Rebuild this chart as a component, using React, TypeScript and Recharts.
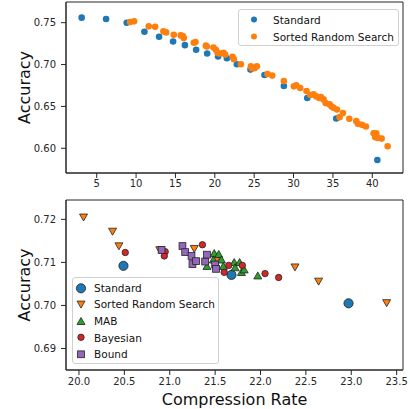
import React from 'react';
import { ScatterChart, Scatter, XAxis, YAxis, Legend, ReferenceArea } from 'recharts';

// top panel: accuracy vs compression rate
const topStdRate = [3.09, 6.19, 8.81, 11.06, 12.92, 14.7, 16.2, 17.63, 19.03, 20.42, 21.53, 22.8, 24.53, 26.31, 28.77, 31.74, 35.42, 40.64];
const topStdAcc = [0.756, 0.7544, 0.75, 0.7392, 0.7332, 0.7276, 0.7232, 0.7176, 0.7132, 0.7096, 0.7076, 0.7004, 0.694, 0.6876, 0.6744, 0.66, 0.6356, 0.586];

const topSrsRate = [
  9.24, 9.75, 11.61, 12.42, 13.47, 13.81, 14.79, 15.68, 15.93, 16.06, 17.33, 17.54, 18.86, 18.98, 19.83,
  20.13, 20.34, 20.59, 21.1, 21.31, 22.25, 22.42, 23.31, 24.58, 24.7, 25.04, 25.34, 26.69, 27.29, 28.77,
  30.04, 30.34, 30.85, 31.65, 32.12, 32.54, 32.88, 33.26, 33.47, 33.81, 34.07, 34.58, 34.83, 35.08, 35.51,
  35.85, 36.27, 37.08, 37.97, 38.18, 38.69, 39.19, 40.17, 40.38, 40.51, 40.72, 41.19, 41.95,
];
const topSrsAcc = [
  0.7508, 0.7516, 0.7456, 0.7452, 0.7396, 0.7384, 0.7356, 0.7348, 0.734, 0.7316, 0.726, 0.7268, 0.7228, 0.7216, 0.7204,
  0.7176, 0.714, 0.7132, 0.714, 0.712, 0.7092, 0.7064, 0.7004, 0.698, 0.6956, 0.6956, 0.698, 0.6888, 0.6868, 0.6804,
  0.674, 0.6752, 0.672, 0.6684, 0.6636, 0.6644, 0.662, 0.66, 0.6612, 0.6584, 0.654, 0.6524, 0.65, 0.6484, 0.6464,
  0.6372, 0.642, 0.6352, 0.6324, 0.6292, 0.628, 0.626, 0.618, 0.6132, 0.618, 0.6124, 0.6116, 0.6024,
];

const topXDomain = [1.1, 43.9];
const topYDomain = [0.5705, 0.7747];
const topXTicks = [5, 10, 15, 20, 25, 30, 35, 40];
const topYTicks = [0.6, 0.65, 0.7, 0.75];

// bottom panel: zoom on the 20-23.5 range
const botStdRate = [20.49, 21.68, 22.97];
const botStdAcc = [0.7092, 0.7071, 0.7005];

const botSrsRate = [20.05, 20.37, 20.44, 20.89, 21.27, 21.51, 22.38, 22.64, 23.39];
const botSrsAcc = [0.7205, 0.7172, 0.7138, 0.7129, 0.7132, 0.7105, 0.7089, 0.7056, 0.7006];

const botMabRate = [21.49, 21.54, 21.48, 21.57, 21.41, 21.59, 21.71, 21.72, 21.77, 21.79, 21.82, 21.97];
const botMabAcc = [0.7121, 0.7119, 0.7106, 0.7106, 0.7091, 0.7091, 0.71, 0.7088, 0.71, 0.7077, 0.7083, 0.7069];

const botBayRate = [20.51, 20.95, 20.94, 21.36, 21.65, 21.6, 21.8, 22.05, 22.2];
const botBayAcc = [0.7123, 0.7125, 0.7115, 0.7141, 0.7093, 0.7077, 0.7093, 0.7074, 0.7065];

const botBoundRate = [20.91, 21.14, 21.17, 21.24, 21.25, 21.29, 21.39, 21.41, 21.5, 21.51];
const botBoundAcc = [0.7129, 0.7138, 0.7124, 0.7115, 0.7096, 0.7103, 0.7102, 0.7118, 0.7095, 0.7085];

const botXDomain = [19.857, 23.57];
const botYDomain = [0.685, 0.7245];
const botXTicks = [20, 20.5, 21, 21.5, 22, 22.5, 23, 23.5];
const botYTicks = [0.69, 0.7, 0.71, 0.72];

const zip = (xs: number[], ys: number[]) => xs.map((x, i) => ({ x, y: ys[i] }));

const FONT = 'DejaVu Sans';
const AXIS = '#262626';

const COLORS = {
  blue: '#1f77b4',
  orange: '#ff7f0e',
  green: '#2ca02c',
  red: '#d62728',
  purple: '#9467bd',
};

// marker shapes, matplotlib style
const Dot = ({ cx, cy, r, fill, edge }: any) => (
  <circle cx={cx} cy={cy} r={r} fill={fill} stroke={edge ? '#222' : 'none'} strokeWidth={0.8} />
);
const TriDown = ({ cx, cy, fill }: any) => (
  <polygon points={`${cx - 4},${cy - 3.2} ${cx + 4},${cy - 3.2} ${cx},${cy + 3.8}`} fill={fill} stroke="#222" strokeWidth={0.8} />
);
const TriUp = ({ cx, cy, fill }: any) => (
  <polygon points={`${cx - 4},${cy + 3.2} ${cx + 4},${cy + 3.2} ${cx},${cy - 3.8}`} fill={fill} stroke="#222" strokeWidth={0.8} />
);
const Square = ({ cx, cy, fill }: any) => (
  <rect x={cx - 3.4} y={cy - 3.4} width={6.8} height={6.8} fill={fill} stroke="#222" strokeWidth={0.8} />
);

const topSeries = [
  { name: 'Standard', data: zip(topStdRate, topStdAcc), color: COLORS.blue },
  { name: 'Sorted Random Search', data: zip(topSrsRate, topSrsAcc), color: COLORS.orange },
];

const botSeries = [
  { name: 'Standard', data: zip(botStdRate, botStdAcc), color: COLORS.blue, marker: (p: any) => <Dot {...p} r={4.6} edge /> },
  { name: 'Sorted Random Search', data: zip(botSrsRate, botSrsAcc), color: COLORS.orange, marker: (p: any) => <TriDown {...p} /> },
  { name: 'MAB', data: zip(botMabRate, botMabAcc), color: COLORS.green, marker: (p: any) => <TriUp {...p} /> },
  { name: 'Bayesian', data: zip(botBayRate, botBayAcc), color: COLORS.red, marker: (p: any) => <Dot {...p} r={3.2} edge /> },
  { name: 'Bound', data: zip(botBoundRate, botBoundAcc), color: COLORS.purple, marker: (p: any) => <Square {...p} /> },
];

const tickStyle = { fontSize: 10, fill: AXIS, fontFamily: FONT };

const YLabel = ({ viewBox }: any) => {
  const x = 24;
  const y = viewBox.y + viewBox.height / 2;
  return (
    <text x={x} y={y} transform={`rotate(-90 ${x} ${y})`} textAnchor="middle" dominantBaseline="central"
      fontSize={16} fontFamily={FONT} fill="#111">
      Accuracy
    </text>
  );
};

const XLabel = ({ viewBox }: any) => {
  const x = viewBox.x + viewBox.width / 2;
  const y = viewBox.y + 29;
  return (
    <text x={x} y={y} textAnchor="middle" dominantBaseline="central" fontSize={16} fontFamily={FONT} fill="#111">
      Compression Rate
    </text>
  );
};

const legendBox: React.CSSProperties = {
  background: 'rgba(255,255,255,0.8)',
  border: '1px solid #d0d0d0',
  borderRadius: 3,
  fontFamily: FONT,
  fontSize: 10.5,
  color: '#111',
  boxSizing: 'border-box',
};

const TopLegend = () => (
  <div style={{ ...legendBox, width: 161, height: 37, padding: '1px 0 0 0' }}>
    {topSeries.map((s) => (
      <div key={s.name} style={{ display: 'flex', alignItems: 'center', height: 17 }}>
        <svg width={34} height={17}>
          <circle cx={15} cy={8.5} r={3} fill={s.color} />
        </svg>
        <span>{s.name}</span>
      </div>
    ))}
  </div>
);

const BotLegend = () => (
  <div style={{ ...legendBox, width: 147, height: 87, padding: '1.5px 0 0 0' }}>
    {botSeries.map((s) => (
      <div key={s.name} style={{ display: 'flex', alignItems: 'center', height: 16.6 }}>
        <svg width={21} height={16.6}>
          {s.marker({ cx: 8, cy: 8.3, fill: s.color })}
        </svg>
        <span>{s.name}</span>
      </div>
    ))}
  </div>
);

// full box round the plot area, like matplotlib's four spines
const Frame = ({ xd, yd }: { xd: number[]; yd: number[] }) => (
  <ReferenceArea x1={xd[0]} x2={xd[1]} y1={yd[0]} y2={yd[1]} fill="none" stroke={AXIS} strokeWidth={1} ifOverflow="visible" />
);

export default function App() {
  return (
    <div style={{ position: 'absolute', left: 0, top: 0, width: 410, height: 409, background: '#fff' }}>
      <div style={{ position: 'absolute', left: 0, top: 0 }}>
        <ScatterChart width={410} height={200} margin={{ top: 2, right: 7, bottom: 0, left: 0 }}>
          <XAxis
            type="number"
            dataKey="x"
            domain={topXDomain}
            ticks={topXTicks}
            allowDataOverflow
            height={27}
            tickSize={5}
            tickMargin={2}
            tick={tickStyle}
            stroke={AXIS}
          />
          <YAxis
            type="number"
            dataKey="y"
            domain={topYDomain}
            ticks={topYTicks}
            allowDataOverflow
            width={66}
            tickSize={5}
            tickMargin={5}
            tick={tickStyle}
            tickFormatter={(v: number) => v.toFixed(2)}
            stroke={AXIS}
            label={<YLabel />}
          />
          {Frame({ xd: topXDomain, yd: topYDomain })}
          {topSeries.map((s) => (
            <Scatter
              key={s.name}
              name={s.name}
              data={s.data}
              fill={s.color}
              isAnimationActive={false}
              shape={(p: any) => <Dot cx={p.cx} cy={p.cy} r={3.3} fill={s.color} />}
            />
          ))}
          <Legend
            layout="vertical"
            align="center"
            verticalAlign="middle"
            content={<TopLegend />}
            wrapperStyle={{ left: 238, top: 9, width: 161, height: 37 }}
          />
        </ScatterChart>
      </div>
      <div style={{ position: 'absolute', left: 0, top: 190 }}>
        <ScatterChart width={410} height={219} margin={{ top: 10, right: 7, bottom: 0, left: 0 }}>
          <XAxis
            type="number"
            dataKey="x"
            domain={botXDomain}
            ticks={botXTicks}
            allowDataOverflow
            height={39}
            tickSize={5}
            tickMargin={3}
            tick={tickStyle}
            tickFormatter={(v: number) => v.toFixed(1)}
            stroke={AXIS}
            label={<XLabel />}
          />
          <YAxis
            type="number"
            dataKey="y"
            domain={botYDomain}
            ticks={botYTicks}
            allowDataOverflow
            width={66}
            tickSize={5}
            tickMargin={5}
            tick={tickStyle}
            tickFormatter={(v: number) => v.toFixed(2)}
            stroke={AXIS}
            label={<YLabel />}
          />
          {Frame({ xd: botXDomain, yd: botYDomain })}
          {botSeries.map((s) => (
            <Scatter
              key={s.name}
              name={s.name}
              data={s.data}
              fill={s.color}
              isAnimationActive={false}
              shape={(p: any) => s.marker({ cx: p.cx, cy: p.cy, fill: s.color })}
            />
          ))}
          <Legend
            layout="vertical"
            align="center"
            verticalAlign="middle"
            content={<BotLegend />}
            wrapperStyle={{ left: 72, top: 87, width: 147, height: 87 }}
          />
        </ScatterChart>
      </div>
    </div>
  );
}
